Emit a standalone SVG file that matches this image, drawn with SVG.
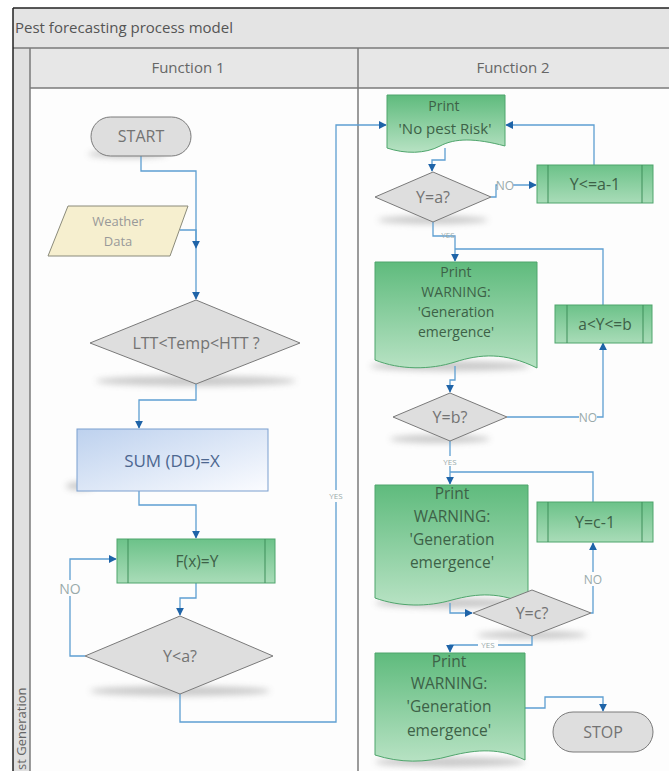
<svg xmlns="http://www.w3.org/2000/svg" width="669" height="771" viewBox="0 0 669 771">
<defs>
<linearGradient id="gGreen" x1="0" y1="0" x2="0" y2="1"><stop offset="0" stop-color="#5fbb7d"/><stop offset="1" stop-color="#b7e2c3"/></linearGradient>
<linearGradient id="gProc" x1="0" y1="0" x2="0" y2="1"><stop offset="0" stop-color="#6cc289"/><stop offset="1" stop-color="#a9dcb8"/></linearGradient>
<linearGradient id="gBlue" x1="0" y1="0" x2="1" y2="1"><stop offset="0" stop-color="#bdd1ee"/><stop offset="1" stop-color="#fbfcff"/></linearGradient>
<filter id="blur" x="-20%" y="-200%" width="140%" height="500%"><feGaussianBlur stdDeviation="3"/></filter>
<marker id="arr" viewBox="0 0 10 10" refX="9" refY="5" markerWidth="8" markerHeight="8" markerUnits="userSpaceOnUse" orient="auto"><path d="M0,0 L10,5 L0,10 z" fill="#1f64a8"/></marker>
</defs>
<style>
text{font-family:"Open Sans","Liberation Sans",sans-serif;}
.hdr{font-size:15px;fill:#666;text-anchor:middle;}
.title{font-size:15px;fill:#555;}
.lane{font-size:13px;fill:#666;}
.gray{fill:#dedede;stroke:#7a7a7a;stroke-width:1;}
.gt{font-size:16px;fill:#737373;text-anchor:middle;}
.grn{fill:url(#gGreen);stroke:#4fa56c;stroke-width:1;}
.proc{fill:url(#gProc);stroke:#4fa56c;stroke-width:1;}
.inner{stroke:#3f8f5b;stroke-width:1;fill:none;}
.gtx{font-size:15.5px;fill:#3d6147;text-anchor:middle;}
.dtx{font-size:14px;fill:#3d6147;text-anchor:middle;}
.con{fill:none;stroke:#5e9fd2;stroke-width:1.3;marker-end:url(#arr);}
.conn{fill:none;stroke:#5e9fd2;stroke-width:1.3;}
.lbl{font-size:12px;fill:#9aa;text-anchor:middle;}
.lbg{fill:#fdfdfd;}
.sh{fill:#8a8a8a;opacity:.45;filter:url(#blur);}
</style>
<!-- frame -->
<rect x="0" y="0" width="669" height="771" fill="#ffffff"/>
<rect x="13" y="8" width="656" height="763" fill="#fdfdfd"/>
<rect x="13" y="8" width="656" height="40" fill="#e4e4e4"/>
<rect x="13" y="48" width="656" height="40" fill="#e7e7e7"/>
<rect x="13" y="48" width="17" height="723" fill="#e0e0e0"/>
<line x1="13" y1="48" x2="669" y2="48" stroke="#7a7a7a" stroke-width="1.5"/>
<line x1="30" y1="88" x2="669" y2="88" stroke="#7a7a7a" stroke-width="1.5"/>
<line x1="30" y1="48" x2="30" y2="771" stroke="#7a7a7a" stroke-width="1.5"/>
<line x1="358" y1="48" x2="358" y2="771" stroke="#7a7a7a" stroke-width="1.5"/>
<line x1="13" y1="8" x2="669" y2="8" stroke="#222" stroke-width="1.5"/>
<line x1="13" y1="8" x2="13" y2="771" stroke="#222" stroke-width="1.5"/>
<text class="title" x="15" y="33">Pest forecasting process model</text>
<text class="hdr" x="188" y="73">Function 1</text>
<text class="hdr" x="513" y="73">Function 2</text>
<text class="lane" transform="translate(26,770) rotate(-90)">st Generation</text>

<!-- shadows -->
<g id="shadows">
<ellipse class="sh" cx="128" cy="154" rx="40" ry="4"/>
<ellipse class="sh" cx="196" cy="381" rx="100" ry="5"/>
<ellipse class="sh" cx="80" cy="486" rx="14" ry="4"/>
<ellipse class="sh" cx="180" cy="691" rx="90" ry="5"/>
<ellipse class="sh" cx="433" cy="220" rx="55" ry="4"/>
<ellipse class="sh" cx="450" cy="366" rx="80" ry="5"/>
<ellipse class="sh" cx="440" cy="439" rx="50" ry="4"/>
<ellipse class="sh" cx="450" cy="603" rx="75" ry="5"/>
<ellipse class="sh" cx="532" cy="635" rx="55" ry="4"/>
<ellipse class="sh" cx="450" cy="762" rx="75" ry="5"/>
</g>

<!-- connectors -->
<g id="connectors">
<path class="con" d="M141,156 V171 H196 V299"/>
<path class="con" d="M180,230 H196 V248"/>
<path class="con" d="M196,384 V400 H139 V428"/>
<path class="con" d="M139,491 V505 H196 V538"/>
<path class="con" d="M196,583 V598 H180 V615"/>
<path class="con" d="M85,656 H70 V559 H116"/>
<rect class="lbg" x="59" y="580" width="22" height="16"/>
<text class="lbl" x="70" y="594" style="font-size:14px">NO</text>
<path class="con" d="M180,694 V722 H336 V125 H386"/>
<rect class="lbg" x="328" y="490" width="16" height="12"/>
<text class="lbl" x="336" y="499" style="font-size:8px">YES</text>
<path class="con" d="M445,148 V160 H432 V171"/>
<path class="con" d="M491,197 H496 V185 H536"/>
<rect class="lbg" x="497" y="179" width="16" height="12"/>
<text class="lbl" x="505" y="190">NO</text>
<path class="con" d="M594,165 V125 H506"/>
<path class="con" d="M433,222 V236 H455 V261"/>
<text class="lbl" x="448" y="238" style="font-size:8px">YES</text>
<path class="conn" d="M603,305 V249 H455"/>
<path class="con" d="M455,366 V380 H450 V392"/>
<path class="con" d="M507,417 H603 V343"/>
<rect class="lbg" x="579" y="411" width="18" height="12"/>
<text class="lbl" x="588" y="422">NO</text>
<path class="con" d="M450,441 V484"/>
<rect class="lbg" x="440" y="456" width="20" height="10"/>
<text class="lbl" x="450" y="465" style="font-size:8px">YES</text>
<path class="conn" d="M593,502 V472 H450"/>
<path class="con" d="M450,603 V613 H472"/>
<path class="con" d="M591,613 H593 V543"/>
<rect class="lbg" x="584" y="572" width="18" height="14"/>
<text class="lbl" x="593" y="584">NO</text>
<path class="con" d="M532,636 V645 H450 V652"/>
<rect class="lbg" x="478" y="640" width="20" height="10"/>
<text class="lbl" x="488" y="648" style="font-size:8px">YES</text>
<path class="con" d="M525,708 H545 V697 H603 V711"/>
</g>

<!-- Function 1 nodes -->
<g id="start">
<rect class="gray" x="91" y="117" width="100" height="39" rx="19.5"/>
<text class="gt" x="141" y="142">START</text>
</g>
<g id="weather">
<path d="M68,206 H188 L170,256 H48 Z" fill="#f6efcf" stroke="#8a8a7a" stroke-width="1"/>
<text class="gt" x="118" y="226" style="font-size:13px;fill:#999">Weather</text>
<text class="gt" x="118" y="246" style="font-size:13px;fill:#999">Data</text>
</g>
<g id="ltt">
<path class="gray" d="M196,300 L300,343 L196,384 L90,343 Z"/>
<text class="gt" x="196" y="349">LTT&lt;Temp&lt;HTT ?</text>
</g>
<g id="sum">
<rect x="77" y="429" width="191" height="62" fill="url(#gBlue)" stroke="#7b9fcf" stroke-width="1"/>
<text x="172" y="467" style="font-size:17px;fill:#4d6790;text-anchor:middle">SUM (DD)=X</text>
</g>
<g id="fx">
<rect class="proc" x="117" y="539" width="158" height="44"/>
<line class="inner" x1="128" y1="539" x2="128" y2="583"/>
<line class="inner" x1="265" y1="539" x2="265" y2="583"/>
<text class="gtx" x="197" y="567">F(x)=Y</text>
</g>
<g id="ylta">
<path class="gray" d="M180,616 L273,656 L180,694 L85,656 Z"/>
<text class="gt" x="180" y="662">Y&lt;a?</text>
</g>

<!-- Function 2 nodes -->
<g id="doc1">
<path class="grn" d="M387,95 H505 V146 C475,138 455,138 440,146 C425,154 405,154 387,148 Z"/>
<text class="gtx" x="444" y="111" style="font-size:14px">Print</text>
<text class="gtx" x="445" y="134" style="font-size:15px">'No pest Risk'</text>
</g>
<g id="yeqa">
<path class="gray" d="M433,172 L491,197 L433,222 L375,197 Z"/>
<text class="gt" x="433" y="203">Y=a?</text>
</g>
<g id="ya1">
<rect class="proc" x="537" y="165" width="116" height="38"/>
<line class="inner" x1="548" y1="165" x2="548" y2="203"/>
<line class="inner" x1="642" y1="165" x2="642" y2="203"/>
<text class="gtx" x="595" y="190" style="font-size:16px">Y&lt;=a-1</text>
</g>
<g id="doc2">
<path class="grn" d="M375,262 H537 V368 C505,352 480,354 455,362 C430,370 400,370 375,360 Z"/>
<text class="dtx" x="456" y="277">Print</text>
<text class="dtx" x="456" y="297">WARNING:</text>
<text class="dtx" x="456" y="317">'Generation</text>
<text class="dtx" x="456" y="337">emergence'</text>
</g>
<g id="yeqb">
<path class="gray" d="M450,393 L507,417 L450,441 L393,417 Z"/>
<text class="gt" x="450" y="423">Y=b?</text>
</g>
<g id="ayb">
<rect class="proc" x="555" y="305" width="97" height="38"/>
<line class="inner" x1="567" y1="305" x2="567" y2="343"/>
<line class="inner" x1="643" y1="305" x2="643" y2="343"/>
<text class="gtx" x="605" y="330">a&lt;Y&lt;=b</text>
</g>
<g id="doc3">
<path class="grn" d="M375,485 H528 V605 C500,592 478,593 452,600 C428,607 400,607 375,598 Z"/>
<text class="gtx" x="452" y="499">Print</text>
<text class="gtx" x="452" y="522">WARNING:</text>
<text class="gtx" x="452" y="545">'Generation</text>
<text class="gtx" x="452" y="568">emergence'</text>
</g>
<g id="yc1">
<rect class="proc" x="537" y="502" width="116" height="40"/>
<line class="inner" x1="548" y1="502" x2="548" y2="542"/>
<line class="inner" x1="642" y1="502" x2="642" y2="542"/>
<text class="gtx" x="595" y="528" style="font-size:16px">Y=c-1</text>
</g>
<g id="yeqc">
<path class="gray" d="M532,590 L591,613 L532,636 L473,613 Z"/>
<text class="gt" x="532" y="619">Y=c?</text>
</g>
<g id="doc4">
<path class="grn" d="M375,653 H525 V760 C500,748 478,749 450,756 C425,763 400,763 375,755 Z"/>
<text class="gtx" x="449" y="667">Print</text>
<text class="gtx" x="449" y="689">WARNING:</text>
<text class="gtx" x="449" y="712">'Generation</text>
<text class="gtx" x="449" y="736">emergence'</text>
</g>
<g id="stop">
<rect class="gray" x="553" y="712" width="100" height="40" rx="20"/>
<text class="gt" x="603" y="738">STOP</text>
</g>
</svg>
